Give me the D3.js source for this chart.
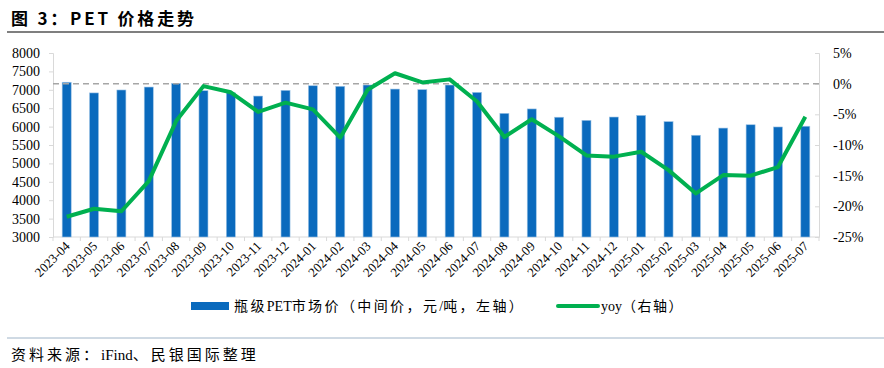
<!DOCTYPE html>
<html>
<head>
<meta charset="utf-8">
<script src="https://cdn.jsdelivr.net/npm/d3@7"></script>
<style>
  body { margin: 0; background: #fff; }
  svg { display: block; }
</style>
</head>
<body>
<svg id="chart" width="884" height="368"></svg>
<script>
const months = ["2023-04","2023-05","2023-06","2023-07","2023-08","2023-09","2023-10","2023-11","2023-12",
  "2024-01","2024-02","2024-03","2024-04","2024-05","2024-06","2024-07","2024-08","2024-09","2024-10",
  "2024-11","2024-12","2025-01","2025-02","2025-03","2025-04","2025-05","2025-06","2025-07"];
const price = [7205,6915,6995,7075,7175,6975,6920,6830,6985,7110,7095,7130,7020,7005,7130,
  6930,6360,6480,6255,6170,6260,6305,6135,5765,5960,6050,5990,6010];
const yoy = [-21.7,-20.4,-20.8,-15.9,-6.1,-0.4,-1.4,-4.6,-3.1,-4.2,-8.8,-1.0,1.7,0.2,0.7,
  -2.9,-8.7,-5.8,-8.6,-11.7,-11.9,-11.1,-14.1,-17.9,-14.9,-15.0,-13.6,-5.4];
const leftTicks = [3000,3500,4000,4500,5000,5500,6000,6500,7000,7500,8000];
const rightTicks = [-25,-20,-15,-10,-5,0,5];

const svg = d3.select("#chart");
const plotLeft = 53, plotRight = 819, plotTop = 53, plotBottom = 237;
const serif = "'Liberation Serif', 'Times New Roman', serif";
const cjk = "'Noto Sans CJK SC', sans-serif";

// mixed text: latin pieces in serif, CJK pieces spaced out
function mixedText(xPos, yPos, size, spacing, parts) {
  let t = svg.append("text")
    .attr("x", xPos).attr("y", yPos)
    .attr("font-size", size).attr("fill", "#000");
  parts.forEach(function(p) {
    t.append("tspan")
      .attr("font-family", p[1] ? serif : cjk)
      .attr("letter-spacing", p[1] ? 0 : spacing)
      .text(p[0]);
  });
  return t;
}

// title
svg.append("text")
  .attr("x", 11).attr("y", 25)
  .attr("font-family", cjk).attr("font-weight", "bold").attr("font-size", 17)
  .attr("letter-spacing", 2.8)
  .attr("fill", "#000")
  .text("图 3：PET 价格走势");
svg.append("line")
  .attr("x1", 7).attr("x2", 884).attr("y1", 32).attr("y2", 32)
  .attr("stroke", "#7f7f7f").attr("stroke-width", 2);

let x = d3.scaleBand().domain(months).range([plotLeft, plotRight]).paddingInner(0.67).paddingOuter(0.335);
let yL = d3.scaleLinear().domain([3000, 8000]).range([plotBottom, plotTop]);
let yR = d3.scaleLinear().domain([-25, 5]).range([plotBottom, plotTop]);

// left axis
svg.append("g")
  .attr("transform", "translate(" + plotLeft + ",0)")
  .call(d3.axisLeft(yL).tickValues(leftTicks).tickSize(4).tickPadding(9).tickFormat(d3.format("d")))
  .call(g => g.selectAll("line, path").attr("stroke", "#d9d9d9"))
  .call(g => g.selectAll("text").attr("font-family", serif).attr("font-size", 14).attr("fill", "#000"));

// right axis (ticks pointing inward)
svg.append("g")
  .attr("transform", "translate(" + plotRight + ",0)")
  .call(d3.axisLeft(yR).tickValues(rightTicks).tickSize(4).tickFormat(d => d + "%"))
  .call(g => g.selectAll("line, path").attr("stroke", "#d9d9d9"))
  .call(g => g.selectAll("text").attr("text-anchor", "start").attr("x", 14)
    .attr("font-family", serif).attr("font-size", 14).attr("fill", "#000"));

// bottom axis
svg.append("line")
  .attr("x1", plotLeft).attr("x2", plotRight).attr("y1", plotBottom).attr("y2", plotBottom)
  .attr("stroke", "#d9d9d9");
svg.append("g")
  .selectAll("line")
  .data(d3.range(months.length + 1))
  .enter()
  .append("line")
  .attr("x1", d => plotLeft + d * x.step()).attr("x2", d => plotLeft + d * x.step())
  .attr("y1", plotBottom).attr("y2", plotBottom + 4)
  .attr("stroke", "#d9d9d9");

svg.append("g")
  .selectAll("text")
  .data(months)
  .enter()
  .append("text")
  .attr("transform", d => "translate(" + (x(d) + x.bandwidth() / 2 + 4) + "," + (plotBottom + 10) + ") rotate(-45)")
  .attr("text-anchor", "end")
  .attr("font-family", serif).attr("font-size", 13).attr("fill", "#000")
  .text(d => d);

// bars
svg.append("g")
  .selectAll("rect")
  .data(price)
  .enter()
  .append("rect")
  .attr("x", (d, i) => x(months[i]))
  .attr("y", d => yL(d))
  .attr("width", x.bandwidth())
  .attr("height", d => plotBottom - yL(d))
  .attr("fill", "#0a6abd")
  .attr("stroke", "#9cc3e6").attr("stroke-width", 0.6);

// 0% dashed reference
svg.append("line")
  .attr("x1", plotLeft).attr("x2", plotRight).attr("y1", yR(0)).attr("y2", yR(0))
  .attr("stroke", "#a6a6a6").attr("stroke-width", 1.5).attr("stroke-dasharray", "6,4");

// yoy line
let line = d3.line()
  .x((d, i) => x(months[i]) + x.bandwidth() / 2)
  .y(d => yR(d));
svg.append("path")
  .datum(yoy)
  .attr("d", line)
  .attr("fill", "none")
  .attr("stroke", "#00b050")
  .attr("stroke-width", 4)
  .attr("stroke-linejoin", "round");

// legend
svg.append("rect")
  .attr("x", 191).attr("y", 302).attr("width", 38).attr("height", 8)
  .attr("fill", "#0a6abd");
mixedText(234, 311, 14, 2.4, [["瓶级", false], ["PET", true], ["市场价（中间价，元", false], ["/", true], ["吨，左轴）", false]]);
svg.append("line")
  .attr("x1", 558).attr("x2", 598).attr("y1", 306).attr("y2", 306)
  .attr("stroke", "#00b050").attr("stroke-width", 4).attr("stroke-linecap", "round");
mixedText(601, 311, 14, 1.5, [["yoy", true], ["（右轴）", false]]);

// source
svg.append("line")
  .attr("x1", 7).attr("x2", 884).attr("y1", 338).attr("y2", 338)
  .attr("stroke", "#9fb4c8").attr("stroke-width", 1);
mixedText(11, 360, 15, 3, [["资料来源：", false], ["iFind", true], ["、民银国际整理", false]]);
</script>
</body>
</html>
